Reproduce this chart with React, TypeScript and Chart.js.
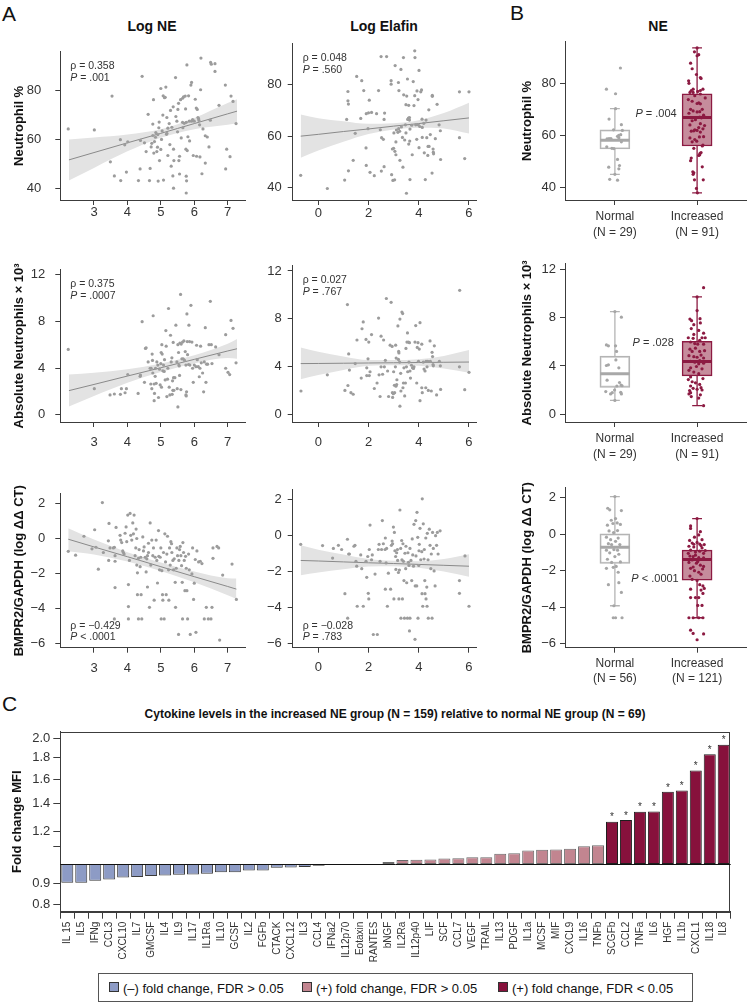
import React, { useEffect, useRef } from 'react';
import { Chart, registerables } from 'chart.js';

Chart.register(...registerables);

const FONT = '"Liberation Sans", Arial, Helvetica, sans-serif';
Chart.defaults.font.family = FONT;
Chart.defaults.color = '#333';

// ---------------- Panel A: scatter data (x = log value, y = outcome) ----------------
const logNeVsNeutPct: [number, number][] = [
  [2.23,64.3],[3.01,63.9],[3.54,77.8],[3.49,50.8],[3.61,45],[3.8,43.1],[3.79,59.9],[3.92,57.8],[4.01,59],[3.97,46.6],[4.33,43.1],[4.39,59.6],[4.38,47.9],[4.44,85.9],[4.51,58.6],[4.56,55],[4.62,70.3],[4.66,43.1],[4.68,48.1],[4.71,56.9],[4.73,58.4],[4.76,66.3],[4.76,61.6],[4.78,76.3],[4.79,54.4],[4.81,59.1],[4.84,60.9],[4.85,62.8],[4.88,55],[4.9,56.8],[4.91,62],[4.94,64.8],[4.95,67.1],[4.92,42.9],[4.96,51.3],[5,80.9],[5,55.9],[5.02,60],[5.04,63.5],[5.06,70],[5.07,77.9],[5.08,43.3],[5.11,77.1],[5.13,77.3],[5.15,81.5],[5.17,62.1],[5.18,62.5],[5.18,69],[5.21,53.4],[5.21,64.6],[5.25,66.5],[5.27,57.9],[5.29,71.9],[5.31,49],[5.33,65],[5.36,45],[5.37,73.4],[5.38,56],[5.39,51.3],[5.38,40],[5.44,85.4],[5.45,69.4],[5.48,67.5],[5.5,63.1],[5.51,72.3],[5.53,74.8],[5.54,51.3],[5.56,53.1],[5.56,45.8],[5.59,76.3],[5.61,60.6],[5.65,67],[5.65,76.9],[5.66,64.8],[5.68,77.5],[5.7,66.6],[5.73,77.8],[5.74,72.5],[5.75,56],[5.76,67],[5.76,44.9],[5.77,43],[5.76,38],[5.78,90.6],[5.79,55.4],[5.81,61.1],[5.83,77.9],[5.85,67.5],[5.86,59.4],[5.9,82.3],[5.92,83.4],[5.92,67.5],[5.95,68.1],[5.97,53.4],[6,67.5],[6.03,76.5],[6.06,72.9],[6.07,53.1],[6.09,72.3],[6.11,69],[6.13,68.5],[6.14,67.8],[6.16,66],[6.17,52.8],[6.19,80.4],[6.2,93.4],[6.23,45.9],[6.26,64.3],[6.33,61.5],[6.33,50.3],[6.39,61],[6.44,56.9],[6.48,67.9],[6.49,91.6],[6.51,90.9],[6.62,91.1],[6.62,87.9],[6.74,74],[6.93,82.3],[6.94,47.9],[6.97,56],[7.07,52.9],[7.1,77.8],[7.16,75.6],[7.25,66.5]
];
const logElafinVsNeutPct: [number, number][] = [
  [-0.7,44.75],[0.36,39.6],[1.05,42.9],[1.13,66.5],[1.18,77.4],[1.18,73.75],[1.2,72.5],[1.2,46.5],[1.39,50.6],[1.47,61.1],[1.53,83.25],[1.69,66.9],[1.73,81.6],[1.81,77.75],[1.9,55.4],[1.91,68.75],[1.91,48.6],[1.98,62.9],[2.0,69.1],[2.03,74],[2.06,45.9],[2.12,69.25],[2.23,44.6],[2.32,68.75],[2.4,77.75],[2.47,62.5],[2.51,46.4],[2.5,91],[2.52,59.4],[2.59,58.75],[2.62,66.5],[2.64,69],[2.72,91],[2.62,48.1],[2.9,81.6],[2.9,80.25],[2.92,45],[2.95,55],[2.97,42.75],[3.04,43],[3.0,55.25],[3.01,61.25],[3.05,54.1],[3.06,87.5],[3.09,57.75],[3.09,52.75],[3.11,62.4],[3.17,61.5],[3.19,80.9],[3.2,62.9],[3.21,77.75],[3.24,61.9],[3.25,50.6],[3.29,86],[3.31,63.6],[3.35,59.5],[3.39,90.6],[3.37,47.9],[3.4,76.1],[3.44,58.5],[3.47,64.4],[3.49,61.25],[3.49,72.25],[3.51,37.75],[3.52,75.6],[3.55,82.25],[3.56,66.5],[3.59,67],[3.6,72],[3.6,56.9],[3.63,67.25],[3.63,66.25],[3.64,58.1],[3.65,43.1],[3.65,62.75],[3.72,64.25],[3.74,52.75],[3.78,81.25],[3.81,71.9],[3.84,75.75],[3.85,90.6],[3.84,93.25],[3.88,64.4],[3.92,58.75],[3.93,77.6],[3.98,64.4],[3.97,74.25],[4.01,85.6],[4.01,55.5],[4.04,63.75],[4.08,77.25],[4.11,78],[4.13,66.6],[4.14,59.5],[4.14,63.4],[4.2,65],[4.22,53.5],[4.26,43.1],[4.29,66.25],[4.32,59.4],[4.36,52.5],[4.37,56],[4.4,70.25],[4.41,56],[4.46,60.6],[4.53,45.6],[4.54,75.9],[4.54,75.5],[4.57,55],[4.58,53.75],[4.59,53.1],[4.66,59],[4.73,72.4],[4.81,64.4],[4.86,62.1],[4.87,50.9],[5.62,77.25],[5.62,59.4],[5.83,51.25],[6.0,77.25]
];
const logNeVsAbsNeut: [number, number][] = [
  [2.23,5.6],[3.01,2.24],[3.48,1.7],[3.61,1.78],[3.79,1.75],[3.82,2.24],[3.93,1.89],[3.97,2.24],[4.01,3.45],[4.32,1.83],[4.38,3.3],[4.39,3.4],[4.44,7.98],[4.51,2.78],[4.54,5.69],[4.56,5.74],[4.62,4.53],[4.68,3.99],[4.7,2.64],[4.71,3.99],[4.73,2.24],[4.74,5.2],[4.75,4.66],[4.76,3.58],[4.77,8.49],[4.8,2.64],[4.8,1.21],[4.81,1.83],[4.83,3.3],[4.84,3.99],[4.86,2.7],[4.88,4.53],[4.91,4.26],[4.93,1.48],[4.96,3.91],[4.98,2.56],[5.0,4.39],[5.01,5.34],[5.02,2.37],[5.03,6.01],[5.04,5.2],[5.06,3.77],[5.08,4.26],[5.1,3.72],[5.11,4.72],[5.13,2.99],[5.15,7.22],[5.16,5.88],[5.18,1.56],[5.2,3.05],[5.21,3.99],[5.23,9.11],[5.25,2.37],[5.27,1.7],[5.29,6.82],[5.31,4.53],[5.33,4.88],[5.34,1.75],[5.35,2.91],[5.36,2.1],[5.37,6.2],[5.38,3.18],[5.39,2.1],[5.42,3.18],[5.45,7.68],[5.48,4.53],[5.49,2.24],[5.51,0.67],[5.51,6.01],[5.53,5.34],[5.54,4.26],[5.55,4.18],[5.56,3.37],[5.57,6.15],[5.59,10.32],[5.6,2.16],[5.61,6.06],[5.63,4.8],[5.65,6.23],[5.67,4.8],[5.69,6.33],[5.71,4.66],[5.73,5.42],[5.75,4.26],[5.75,1.7],[5.76,1.62],[5.77,1.97],[5.78,8.65],[5.79,6.28],[5.8,5.15],[5.83,4.31],[5.84,7.68],[5.86,6.28],[5.87,4.26],[5.9,9.38],[5.93,6.23],[5.95,3.99],[5.97,2.78],[6.0,4.26],[6.05,4.12],[6.07,5.96],[6.09,4.72],[6.12,4.12],[6.15,3.26],[6.17,3.99],[6.19,5.88],[6.21,4.45],[6.25,3.58],[6.28,1.97],[6.3,4.53],[6.33,7.47],[6.35,2.78],[6.37,4.34],[6.4,4.34],[6.44,6.01],[6.48,9.73],[6.51,6.01],[6.53,4.39],[6.64,5.82],[6.74,5.15],[6.94,6.87],[6.94,3.99],[7.01,3.64],[7.06,3.45],[7.1,8.09],[7.16,7.41],[7.25,4.45]
];
const logElafinVsAbsNeut: [number, number][] = [
  [-0.69,1.97],[0.36,3.32],[1.06,2.02],[1.16,9.19],[1.18,2.43],[1.21,5.07],[1.24,3.72],[1.3,1.83],[1.39,1.7],[1.47,4.26],[1.54,6.23],[1.71,3.05],[1.74,7.17],[1.79,7.74],[1.9,6.28],[1.93,3.26],[1.93,3.91],[1.98,4.66],[2.01,6.06],[2.03,3.26],[2.06,3.58],[2.12,6.68],[2.23,2.18],[2.34,2.64],[2.4,8.06],[2.42,3.32],[2.46,1.51],[2.5,6.55],[2.5,3.99],[2.56,3.37],[2.6,6.23],[2.63,3.99],[2.67,4.53],[2.71,9.7],[2.76,3.64],[2.8,1.51],[2.86,5.8],[2.9,9.38],[2.94,5.69],[2.95,1.83],[2.96,1.43],[2.99,1.75],[3.0,3.58],[3.03,2.45],[3.04,1.83],[3.07,3.99],[3.08,5.8],[3.09,2.37],[3.1,4.72],[3.12,2.51],[3.13,2.91],[3.17,7.41],[3.19,4.61],[3.2,5.28],[3.21,5.15],[3.24,4.39],[3.25,7.98],[3.25,0.7],[3.28,3.45],[3.29,1.97],[3.33,8.57],[3.36,8.44],[3.37,2.24],[3.39,2.64],[3.41,3.91],[3.44,1.56],[3.47,2.64],[3.49,5.53],[3.51,3.99],[3.53,6.06],[3.55,6.82],[3.56,3.58],[3.59,6.06],[3.61,4.39],[3.63,6.01],[3.65,3.64],[3.67,3.05],[3.71,4.12],[3.75,3.91],[3.79,3.85],[3.81,3.99],[3.85,6.06],[3.88,7.44],[3.92,2.64],[3.94,5.61],[3.97,6.01],[3.99,4.45],[4.02,5.47],[4.05,7.68],[4.05,1.16],[4.12,5.88],[4.12,2.24],[4.14,1.83],[4.18,4.39],[4.21,3.8],[4.25,3.64],[4.28,2.24],[4.29,4.45],[4.33,3.99],[4.36,4.45],[4.38,2.02],[4.45,6.15],[4.46,4.45],[4.5,1.97],[4.53,5.2],[4.55,4.85],[4.57,4.18],[4.58,4.07],[4.62,5.74],[4.71,1.64],[4.82,4.45],[4.86,4.07],[4.87,2.1],[5.62,3.99],[5.63,10.38],[5.83,2.08],[6.0,3.53]
];
const logNeVsBmpr2: [number, number][] = [
  [2.23,-0.73],[2.45,-0.95],[2.7,0.13],[2.94,-0.59],[3.02,0.5],[3.06,-0.5],[3.13,-1.75],[3.25,2.05],[3.28,-0.8],[3.43,-0.13],[3.45,0.86],[3.48,-0.54],[3.44,-1.25],[3.61,-0.5],[3.63,-0.98],[3.63,-1.3],[3.58,-0.54],[3.63,-2.8],[3.66,0.63],[3.61,-4.59],[3.78,0.18],[3.8,-0.09],[3.83,-0.23],[3.86,-0.71],[3.88,-0.8],[3.9,-0.89],[3.93,0.3],[3.96,0.66],[3.98,-0.18],[4.01,1.34],[4.06,-1.25],[4.03,-2.63],[4.03,-3.89],[4.03,-4.59],[4.08,1.43],[4.1,0.18],[4.13,-0.09],[4.16,0.89],[4.18,0.27],[4.2,1.34],[4.23,-0.98],[4.25,-0.54],[4.26,0.54],[4.28,-1.52],[4.28,0],[4.3,-1.96],[4.3,-3.21],[4.33,-1.13],[4.33,-4.59],[4.35,-0.63],[4.38,-1.61],[4.4,-1.07],[4.41,-3.21],[4.43,-4.59],[4.46,0.09],[4.48,-0.71],[4.5,-0.48],[4.53,-1.07],[4.56,-1.91],[4.58,-1.16],[4.6,-2.77],[4.6,-0.98],[4.63,-0.27],[4.63,-0.8],[4.66,-3.93],[4.68,0.89],[4.7,-1.52],[4.73,-0.09],[4.76,-0.98],[4.78,-0.54],[4.8,-3.52],[4.83,-1.07],[4.86,-0.09],[4.88,-1.25],[4.9,-2.54],[4.93,0.45],[4.94,-1.02],[4.96,-1.79],[4.98,-1.07],[5.0,-0.54],[5.01,-4.59],[5.03,-1.84],[5.05,-3.21],[5.06,-3.52],[5.08,-0.8],[5.1,-4.59],[5.12,0.27],[5.14,-1.34],[5.16,-3.21],[5.18,-0.89],[5.2,0.13],[5.23,-1.79],[5.24,-3.52],[5.26,-0.54],[5.28,-1.52],[5.3,-0.18],[5.32,-0.3],[5.33,-0.8],[5.36,-1.25],[5.38,-1.79],[5.4,-1.16],[5.43,-2.5],[5.44,-3.93],[5.46,-1.7],[5.48,-0.54],[5.5,-0.98],[5.53,-5.48],[5.54,-1.25],[5.56,-0.63],[5.58,-0.45],[5.6,-0.98],[5.62,-1.55],[5.64,-2.5],[5.65,-4.59],[5.66,-0.23],[5.68,-0.8],[5.7,-1.25],[5.72,-2.98],[5.74,-1.02],[5.76,-1.7],[5.78,-2.98],[5.8,-4.59],[5.83,-0.89],[5.85,-1.79],[5.88,-5.48],[5.93,-2.02],[5.95,-0.54],[5.98,-3.48],[6.0,-2.55],[6.03,-1.2],[6.05,-5.36],[6.08,-0.71],[6.13,-1.34],[6.18,-1.3],[6.23,-1.43],[6.3,-4.59],[6.36,-3.93],[6.42,-4.59],[6.5,-4.59],[6.53,-3.93],[6.56,-1.13],[6.56,-0.54],[6.68,-0.45],[6.73,-0.54],[6.76,-5.8],[6.85,-2.09],[7.13,-1.46],[7.26,-3.48]
];
const logElafinVsBmpr2: [number, number][] = [
  [-0.7,-0.48],[0.17,-0.55],[0.57,-1.25],[0.6,-0.71],[0.8,-0.54],[0.93,-0.77],[1.06,-3.23],[1.16,-0.2],[1.17,-4.59],[1.21,-1.02],[1.24,-1.02],[1.42,-0.59],[1.46,-0.54],[1.5,-1.43],[1.53,-1.7],[1.55,-3.93],[1.69,-1.07],[1.73,-1.84],[1.79,-3.93],[1.9,-1.43],[1.93,-2.32],[1.97,-1.16],[1.99,-3.21],[2.01,-3.52],[2.03,-0.77],[2.06,0.59],[2.12,-1.34],[2.15,-1.07],[2.19,-5.5],[2.26,-2.14],[2.35,-5.5],[2.39,-0.77],[2.42,-0.48],[2.46,-1.43],[2.52,-0.77],[2.55,0.84],[2.59,-0.45],[2.66,-0.77],[2.67,-0.13],[2.67,-2.98],[2.7,-1.52],[2.72,-0.71],[2.75,-3.93],[2.79,-2.09],[2.88,-2.98],[2.91,-0.54],[2.94,-0.3],[2.96,-0.45],[2.99,0.48],[3.01,-3.52],[3.03,0.18],[3.05,-0.84],[3.08,-1.16],[3.09,-1.88],[3.12,-0.95],[3.15,-0.77],[3.16,-1.38],[3.19,-2.05],[3.21,-3.52],[3.23,-1.91],[3.25,1.43],[3.28,-0.71],[3.29,-4.59],[3.32,-0.27],[3.33,-1.34],[3.35,-3.52],[3.37,-0.45],[3.39,-1.43],[3.41,-2.5],[3.43,-4.59],[3.45,-0.98],[3.48,-1.84],[3.49,-0.59],[3.52,-2.62],[3.55,-4.59],[3.57,-0.95],[3.59,-1.48],[3.61,-1.66],[3.63,-5.3],[3.65,-4.59],[3.65,-0.71],[3.69,-1.38],[3.72,-2.5],[3.74,-0.18],[3.76,-1.07],[3.79,-1.7],[3.81,0.63],[3.85,-5.77],[3.86,-2.8],[3.88,0.84],[3.89,-1.13],[3.92,-2.8],[3.93,1.3],[3.96,-0.09],[3.97,-4.59],[4.0,-1.66],[4.01,-0.84],[4.02,-0.48],[4.05,0.41],[4.08,-1.34],[4.12,-0.89],[4.13,-3.23],[4.14,2.05],[4.16,-3.93],[4.18,0.66],[4.21,-1.3],[4.22,-0.77],[4.24,-2.5],[4.25,-3.23],[4.28,-0.13],[4.29,-3.52],[4.32,-2.86],[4.33,-3.93],[4.34,0.13],[4.37,-1.34],[4.38,-4.59],[4.42,0.36],[4.45,-0.54],[4.48,-1.84],[4.5,-1.02],[4.53,-4.59],[4.55,0.18],[4.58,-0.71],[4.61,-1.96],[4.65,-2.8],[4.67,0],[4.71,-0.54],[4.74,0.18],[4.77,-1.02],[4.85,0.27],[5.62,-2.5],[5.62,-3.21],[5.84,-1.13],[6.0,-3.93]
];

// regression fits with 95% CI
const fitNeNeutPctX = [2.25, 3, 4, 5, 5.5, 6, 7, 7.28];
const fitNeNeutPctMid = [51.6, 54.6, 58.6, 62.5, 64.5, 66.5, 70.5, 71.6];
const fitNeNeutPctHi = [60.0, 60.8, 62.0, 64.2, 66.2, 68.8, 75.0, 76.5];
const fitNeNeutPctLo = [43.1, 48.3, 55.1, 60.7, 62.6, 64.2, 66.0, 66.6];

const fitElNeutPctX = [-0.7, 0, 1, 2, 3, 4, 5, 6];
const fitElNeutPctMid = [60.0, 60.7, 61.8, 62.8, 63.9, 64.9, 66.0, 67.1];
const fitElNeutPctHi = [68.4, 67.0, 65.8, 64.8, 65.0, 66.2, 69.0, 73.0];
const fitElNeutPctLo = [51.6, 54.4, 57.8, 60.8, 62.6, 63.3, 63.0, 61.0];

const fitNeAbsX = [2.25, 3, 4, 5, 5.5, 6, 7, 7.28];
const fitNeAbsMid = [2.07, 2.6, 3.32, 4.03, 4.39, 4.75, 5.47, 5.66];
const fitNeAbsHi = [3.45, 3.6, 3.9, 4.4, 4.72, 5.1, 6.1, 6.5];
const fitNeAbsLo = [0.7, 1.6, 2.74, 3.66, 4.06, 4.4, 4.86, 4.8];

const fitElAbsX = [-0.7, 0, 1, 2, 3, 4, 5, 6];
const fitElAbsMid = [4.26, 4.27, 4.29, 4.31, 4.33, 4.35, 4.37, 4.39];
const fitElAbsHi = [5.6, 5.25, 4.85, 4.55, 4.55, 4.62, 4.9, 5.39];
const fitElAbsLo = [2.96, 3.3, 3.73, 4.07, 4.12, 4.08, 3.84, 3.5];

const fitNeBmprX = [2.23, 3, 4, 5, 6, 7, 7.26];
const fitNeBmprMid = [-0.04, -0.48, -1.04, -1.61, -2.18, -2.74, -2.89];
const fitNeBmprHi = [0.59, -0.06, -0.78, -1.37, -1.88, -2.27, -2.29];
const fitNeBmprLo = [-0.73, -0.92, -1.32, -1.86, -2.5, -3.24, -3.45];

const fitElBmprX = [-0.7, 0, 1, 2, 3, 4, 5, 6];
const fitElBmprMid = [-1.38, -1.41, -1.46, -1.51, -1.55, -1.6, -1.65, -1.7];
const fitElBmprHi = [-0.54, -0.78, -1.05, -1.3, -1.4, -1.42, -1.3, -1.04];
const fitElBmprLo = [-2.2, -2.05, -1.87, -1.72, -1.7, -1.78, -2.0, -2.29];

// axis ticks
const logNeTicks = [3, 4, 5, 6, 7];
const logElafinTicks = [0, 2, 4, 6];
const neutPctTicks = [40, 60, 80];
const absNeutTicks = [0, 4, 8, 12];
const bmprTicks = [-6, -4, -2, 0, 2];

// ---------------- Panel B: box plot stats [whiskerLow, Q1, median, Q3, whiskerHigh] ----------------
const neGroups = ['Normal', 'Increased'];
const neutPctN = ['(N = 29)', '(N = 91)'];
const absNeutN = ['(N = 29)', '(N = 91)'];
const bmprN = ['(N = 56)', '(N = 121)'];

const neutPctNormalStats = [45, 54.75, 58.1, 62.1, 70.25];
const neutPctIncStats = [37.9, 55.9, 66.9, 76, 93.6];
const absNeutNormalStats = [1.16, 2.24, 3.37, 4.82, 8.49];
const absNeutIncStats = [0.73, 3.18, 4.37, 6.04, 9.7];
const bmprNormalStats = [-3.93, -1.61, -0.71, 0.02, 2.07];
const bmprIncStats = [-4.59, -2.52, -1.39, -0.875, 0.86];

// jittered points: [horizontal jitter, value]
const neutPctNormalPts: [number, number][] = [
  [0.067,85.9],[-0.103,77.75],[0.008,76],[-0.071,66.25],[0.079,64.1],[-0.016,62.1],[0.091,61.9],[0.032,59.6],[-0.095,58.6],[-0.071,58.75],[-0.048,58.75],[0.048,59.1],[-0.099,55.6],[-0.036,55],[-0.012,54.9],[0.079,57.5],[0.032,50.75],[-0.075,47.75],[0.056,48.4],[0.048,47.1],[-0.063,43.1],[0.032,42.75],[0,45],[0.008,70.25],[0.048,60],[0.071,60.25]
];
const neutPctIncPts: [number, number][] = [
  [0,93.6],[0.004,37.9],[-0.008,39.6],[-0.032,42.9],[0.075,42.9],[-0.048,45],[-0.04,45.6],[-0.052,46],[0.063,47.9],[-0.071,51.25],[-0.079,50.25],[0.032,52.5],[0.036,53.1],[0.048,53.4],[0.02,52.25],[0.071,56.25],[0.063,55.9],[-0.06,57.5],[-0.028,58.4],[-0.004,57.75],[0.028,59.4],[-0.087,59],[-0.071,61.6],[-0.04,61.75],[-0.028,62.1],[0,61.9],[0.04,61.25],[0.071,62.5],[0.091,63.75],[-0.087,64],[-0.06,65.6],[-0.02,66],[0.032,67],[0.052,66.75],[0.079,67.75],[0,69],[0.032,69.1],[-0.048,69.4],[-0.079,70],[0.063,70],[0.02,72.5],[0,72.25],[0.04,72.1],[-0.06,73.1],[0.099,74.4],[-0.107,73.75],[-0.028,75.25],[0.04,75.9],[-0.087,76.5],[-0.048,76.5],[0.008,76.9],[-0.071,77.25],[0.04,77.25],[-0.048,77.75],[-0.099,80],[0.071,77.75],[-0.103,81],[0.048,81.9],[0.04,82.25],[-0.008,83.4],[-0.06,85.6],[-0.079,87.75],[0,90.6],[0.02,91],[-0.032,92.1],[-0.099,68.5],[0.079,59.5],[-0.04,55],[0.04,64.5],[-0.079,66.8],[0.02,63]
];
const absNeutNormalPts: [number, number][] = [
  [0.079,8.03],[-0.103,5.74],[-0.079,5.66],[0.008,5.66],[0.02,5.2],[0.012,4.5],[-0.079,4.1],[-0.103,4.04],[0.048,3.85],[-0.095,2.83],[0.056,2.64],[0.075,2.43],[0.024,2.35],[0.087,2.37],[-0.004,2.02],[-0.111,1.89],[-0.052,1.7],[-0.032,1.8],[0.071,1.83],[0.079,1.7],[0,8.49],[0,1.16]
];
const absNeutIncPts: [number, number][] = [
  [0.079,10.46],[0,9.7],[0,8.57],[-0.087,7.87],[-0.067,7.74],[0.036,7.9],[-0.04,7.41],[0.04,7.55],[-0.071,7.09],[0.02,6.93],[-0.04,6.6],[0.079,6.71],[0.06,6.33],[0.099,6.33],[-0.107,6.33],[-0.048,6.28],[0.032,6.12],[-0.079,5.98],[-0.028,5.85],[0.008,5.8],[0.079,5.8],[-0.087,5.39],[-0.02,5.47],[-0.06,5.2],[0.032,5.2],[0.091,5.26],[-0.099,4.85],[-0.04,4.77],[0,4.72],[0.048,4.9],[0.079,4.66],[-0.079,4.39],[-0.028,4.31],[0.032,4.45],[0.02,4.18],[0.079,4.23],[-0.079,3.85],[-0.008,3.96],[0.06,3.77],[-0.099,3.64],[-0.04,3.5],[0.02,3.37],[-0.079,3.1],[0.071,2.96],[-0.107,2.88],[-0.06,2.7],[-0.02,2.61],[0.032,2.48],[-0.079,2.35],[0.048,2.21],[-0.048,2.16],[-0.091,1.97],[0,2.08],[0.06,2.02],[-0.099,1.7],[0.04,1.62],[-0.071,1.48],[0.02,1.35],[0.079,0.73],[-0.079,1.8]
];
const bmprNormalPts: [number, number][] = [
  [0,2.07],[-0.087,1.43],[-0.063,1.34],[0.079,1.3],[0.008,0.86],[-0.044,0.77],[0.028,0.625],[0.067,0.54],[-0.091,0.5],[-0.024,0.59],[-0.071,0.18],[0.032,0.2],[-0.016,0.09],[-0.103,-0.16],[-0.052,-0.3],[0.04,-0.21],[0.008,-0.39],[-0.079,-0.52],[-0.04,-0.57],[0.06,-0.57],[-0.012,-0.84],[0.032,-0.875],[-0.103,-0.875],[-0.063,-1.02],[0.048,-1.1],[0,-1.23],[-0.091,-1.375],[0.067,-1.52],[-0.04,-1.55],[-0.103,-1.875],[-0.02,-1.82],[0.016,-1.77],[0.04,-2.09],[-0.079,-2.77],[0.048,-2.66],[0.079,-3.2],[-0.012,-3.93],[-0.02,-4.59],[0.008,-4.59],[0.087,-4.59]
];
const bmprIncPts: [number, number][] = [
  [0,0.86],[-0.079,0.46],[-0.079,0.32],[0.04,0.14],[0.02,-0.04],[-0.032,-0.16],[0.06,-0.3],[-0.091,-0.34],[-0.06,-0.48],[0,-0.45],[0.032,-0.54],[0.087,-0.57],[-0.099,-0.66],[-0.04,-0.7],[0.06,-0.75],[-0.079,-0.875],[-0.02,-0.98],[0.032,-0.93],[0.079,-1.05],[-0.087,-1.2],[-0.048,-1.23],[0.02,-1.29],[-0.06,-1.41],[0.06,-1.375],[-0.099,-1.55],[-0.008,-1.59],[0.04,-1.7],[0.079,-1.77],[-0.079,-1.875],[-0.032,-2.0],[0.02,-2.09],[0.067,-1.91],[-0.06,-2.48],[0,-2.54],[0.032,-2.77],[0.071,-2.84],[0.087,-2.98],[-0.079,-3.02],[0.048,-3.07],[0.071,-3.25],[-0.079,-3.48],[-0.02,-3.48],[0.02,-3.48],[0.008,-3.91],[0.06,-3.91],[-0.099,-4.59],[-0.048,-4.59],[0.02,-4.59],[0.071,-4.59],[-0.079,-5.27],[-0.048,-5.45],[0.079,-5.48],[0,-5.8],[-0.04,-0.55],[0.048,-0.62],[0.099,-0.9],[-0.107,-1.05],[-0.02,-1.15],[0.079,-1.3],[0.008,-1.5],[-0.048,-1.8],[0.048,-2.2],[-0.087,-2.3]
];

// ---------------- Panel C: cytokine fold changes ----------------
const cytokines = ['IL 15','IL5','IFNg','CCL3','CXCL10','IL7','GMCSF','IL4','IL9','IL17','IL1Ra','IL10','GCSF','IL2','FGFb','CTACK','CXCL12','IL3','CCL4','IFNa2','IL12p70','Eotaxin','RANTES','bNGF','IL2Ra','IL12p40','LIF','SCF','CCL7','VEGF','TRAIL','IL13','PDGF','IL1a','MCSF','MIF','CXCL9','IL16','TNFb','SCGFb','CCL2','TNFa','IL6','HGF','IL1b','CXCL1','IL18','IL8'];
const foldChange = [0.901,0.901,0.911,0.918,0.928,0.931,0.936,0.938,0.943,0.944,0.948,0.955,0.956,0.965,0.965,0.979,0.981,0.984,0.991,0.995,0.995,0.999,1.0005,1.011,1.022,1.024,1.025,1.031,1.033,1.038,1.038,1.059,1.061,1.078,1.082,1.084,1.088,1.103,1.109,1.264,1.277,1.336,1.338,1.492,1.503,1.679,1.836,1.937];
const fdrGroup = [
  'neg','neg','neg','neg','neg','neg','neg','neg','neg','neg','neg','neg','neg','neg','neg','neg','neg','neg','neg','neg','neg','neg',
  'pos','pos','pos','pos','pos','pos','pos','pos','pos','pos','pos','pos','pos','pos','pos','pos','pos',
  'sig','sig','sig','sig','sig','sig','sig','sig','sig'
];
const foldTicks = [0.8, 0.9, 1.1, 1.2, 1.4, 1.6, 1.8, 2.0];
const legendLabels = ['(\u2013) fold change, FDR > 0.05', '(+) fold change, FDR > 0.05', '(+) fold change, FDR < 0.05'];

// ---------------- styles ----------------
const AX = '#3c3c3c';
const PT_GRAY = '#9c9c9c';
const BAND = '#e3e3e3';
const FIT = '#8a8a8a';
const CRIMSON = '#8c1a42';
const ROSE = '#c68c9c';
const BOX_GRAY = '#b4b4b4';
const GROUP_FILL: Record<string, string> = { neg: '#8d9bc5', pos: '#c28590', sig: '#87113c' };
const GROUP_BORDER: Record<string, string> = { neg: '#3a3a3a', pos: '#6a6a6a', sig: '#1e1e1e' };

const fmtNum = (v: number) => (v < 0 ? '\u2212' + Math.abs(v) : String(v));

type Rect = { x: number; y: number; w: number; h: number };
type Area = { l: number; t: number; r: number; b: number };

function layoutOf(rect: Rect, area: Area) {
  return { yW: area.l - rect.x, xH: rect.y + rect.h - area.b, pt: area.t - rect.y, pr: rect.x + rect.w - area.r };
}

function linAxis(min: number, max: number, ticks: number[], pad: number, fit: (s: any) => void, extra: any = {}) {
  return {
    type: 'linear',
    min, max,
    offset: false,
    afterBuildTicks: (s: any) => { s.ticks = ticks.map((v) => ({ value: v })); },
    afterFit: fit,
    ticks: { font: { size: 13 }, color: '#333', padding: pad, autoSkip: false, maxRotation: 0, callback: (v: number) => fmtNum(v) },
    grid: { offset: false, drawOnChartArea: false, drawTicks: true, tickLength: 5, color: AX, lineWidth: 1 },
    border: { display: true, color: AX, width: 1 },
    ...extra,
  };
}

function statsPlugin(rho: string, pRest: string, pos: 'top' | 'bottom') {
  return {
    id: 'stats',
    afterDatasetsDraw(chart: any) {
      const { ctx, chartArea } = chart;
      ctx.save();
      ctx.fillStyle = '#333';
      ctx.textBaseline = 'middle';
      ctx.textAlign = 'left';
      const x = chartArea.left + 10;
      const y1 = pos === 'top' ? chartArea.top + 14 : chartArea.bottom - 22;
      const y2 = pos === 'top' ? chartArea.top + 26 : chartArea.bottom - 11;
      ctx.font = `10.5px ${FONT}`;
      ctx.fillText(rho, x, y1);
      ctx.font = `italic 10.5px ${FONT}`;
      ctx.fillText('P', x, y2);
      const w = ctx.measureText('P').width;
      ctx.font = `10.5px ${FONT}`;
      ctx.fillText(pRest, x + w, y2);
      ctx.restore();
    },
  };
}

function scatterConfig(s: any) {
  const L = layoutOf(s.rect, s.area);
  const datasets: any[] = [
    { type: 'line', data: s.fitX.map((x: number, i: number) => ({ x, y: s.fitHi[i] })), borderWidth: 0, pointRadius: 0, fill: '+1', backgroundColor: BAND, cubicInterpolationMode: 'monotone', order: 3 },
    { type: 'line', data: s.fitX.map((x: number, i: number) => ({ x, y: s.fitLo[i] })), borderWidth: 0, pointRadius: 0, fill: false, cubicInterpolationMode: 'monotone', order: 3 },
    { type: 'line', data: s.fitX.map((x: number, i: number) => ({ x, y: s.fitMid[i] })), borderColor: FIT, borderWidth: 1, pointRadius: 0, fill: false, order: 2 },
    { type: 'scatter', data: s.pts.map(([x, y]: [number, number]) => ({ x, y })), backgroundColor: PT_GRAY, borderWidth: 0, pointRadius: 1.6, order: 1 },
  ];
  const yExtra: any = {};
  if (s.yTitle) {
    yExtra.title = { display: true, text: s.yTitle, font: { size: 13, weight: 'bold' }, color: '#111', padding: { top: s.yTitlePad, bottom: 0 } };
  }
  return {
    type: 'scatter',
    data: { datasets },
    options: {
      responsive: false, animation: false, devicePixelRatio: 1, events: [],
      layout: { padding: { left: 0, top: L.pt, right: L.pr, bottom: 0 } },
      plugins: { legend: { display: false }, tooltip: { enabled: false } },
      scales: {
        x: linAxis(s.xMin, s.xMax, s.xTicks, s.xPad, (sc: any) => { sc.height = L.xH; }),
        y: linAxis(s.yMin, s.yMax, s.yTicks, s.yPad, (sc: any) => { sc.width = L.yW; }, yExtra),
      },
    },
    plugins: [statsPlugin(s.rho, s.pRest, s.statsPos)],
  };
}

const HALF = 15 / 84; // box half-width in group units
const CAP = 0.06;

function whisker(c: number, st: number[]) {
  return [
    { x: c, y: st[0] }, { x: c, y: st[1] }, { x: c, y: null },
    { x: c, y: st[3] }, { x: c, y: st[4] }, { x: c, y: null },
    { x: c - CAP, y: st[4] }, { x: c + CAP, y: st[4] }, { x: c, y: null },
    { x: c - CAP, y: st[0] }, { x: c + CAP, y: st[0] },
  ];
}

function boxConfig(s: any) {
  const L = layoutOf(s.rect, s.area);
  const ns = s.normalStats, is = s.incStats;
  const datasets: any[] = [
    { type: 'bar', data: [{ x: 1, y: [ns[1], ns[3]] }, { x: 2, y: [is[1], is[3]] }], backgroundColor: ['rgba(255,255,255,0.6)', ROSE], borderColor: [BOX_GRAY, CRIMSON], borderWidth: 1.5, borderSkipped: false, barThickness: 30, grouped: false, order: 6 },
    { type: 'line', data: whisker(1, ns), borderColor: BOX_GRAY, borderWidth: 1.3, pointRadius: 0, fill: false, spanGaps: false, order: 5 },
    { type: 'line', data: whisker(2, is), borderColor: CRIMSON, borderWidth: 1.3, pointRadius: 0, fill: false, spanGaps: false, order: 5 },
    { type: 'scatter', data: s.normalPts.map(([d, y]: [number, number]) => ({ x: 1 + d, y })), backgroundColor: '#a6a6a6', borderWidth: 0, pointRadius: 1.6, order: 3 },
    { type: 'scatter', data: s.incPts.map(([d, y]: [number, number]) => ({ x: 2 + d, y })), backgroundColor: CRIMSON, borderWidth: 0, pointRadius: 1.6, order: 3 },
    { type: 'line', data: [{ x: 1 - HALF, y: ns[2] }, { x: 1 + HALF, y: ns[2] }], borderColor: '#a8a8a8', borderWidth: 3, pointRadius: 0, fill: false, order: 1 },
    { type: 'line', data: [{ x: 2 - HALF, y: is[2] }, { x: 2 + HALF, y: is[2] }], borderColor: CRIMSON, borderWidth: 3, pointRadius: 0, fill: false, order: 1 },
  ];
  const labels = s.groupLabels;
  const pPlugin = {
    id: 'pval',
    afterDatasetsDraw(chart: any) {
      const { ctx, scales } = chart;
      const x = scales.x.getPixelForValue(s.pAt[0]);
      const y = scales.y.getPixelForValue(s.pAt[1]);
      ctx.save();
      ctx.fillStyle = '#333';
      ctx.textBaseline = 'middle';
      ctx.textAlign = 'left';
      ctx.font = `italic 11px ${FONT}`;
      ctx.fillText('P', x, y);
      const w = ctx.measureText('P').width;
      ctx.font = `11px ${FONT}`;
      ctx.fillText(s.pRest, x + w, y);
      ctx.restore();
    },
  };
  return {
    type: 'scatter',
    data: { datasets },
    options: {
      responsive: false, animation: false, devicePixelRatio: 1, events: [],
      layout: { padding: { left: 0, top: L.pt, right: L.pr, bottom: 0 } },
      plugins: { legend: { display: false }, tooltip: { enabled: false } },
      scales: {
        x: linAxis(0.393, 2.595, [1, 2], s.xPad, (sc: any) => { sc.height = L.xH; }, {
          ticks: { font: { size: 12, lineHeight: 1.3 }, color: '#333', padding: s.xPad, autoSkip: false, maxRotation: 0, callback: (_v: number, i: number) => labels[i] },
        }),
        y: linAxis(s.yMin, s.yMax, s.yTicks, s.yPad, (sc: any) => { sc.width = L.yW; }, {
          title: { display: true, text: s.yTitle, font: { size: 13, weight: 'bold' }, color: '#111', padding: { top: s.yTitlePad, bottom: 0 } },
        }),
      },
    },
    plugins: [pPlugin],
  };
}

function barConfig() {
  const rect: Rect = { x: 5, y: 721, w: 740, h: 250 };
  const area: Area = { l: 60.3, t: 725.7, r: 730.7, b: 911.7 };
  const L = layoutOf(rect, area);
  const deco = {
    id: 'deco',
    afterDatasetsDraw(chart: any) {
      const { ctx, chartArea, scales } = chart;
      ctx.save();
      ctx.strokeStyle = AX;
      ctx.lineWidth = 1;
      ctx.strokeRect(Math.round(chartArea.left) + 0.5, Math.round(chartArea.top) + 0.5, Math.round(chartArea.right - chartArea.left) - 1, Math.round(chartArea.bottom - chartArea.top));
      const y1 = Math.round(scales.y.getPixelForValue(1)) + 0.5;
      ctx.strokeStyle = '#111';
      ctx.beginPath();
      ctx.moveTo(chartArea.left, y1);
      ctx.lineTo(chartArea.right, y1);
      ctx.stroke();
      const meta = chart.getDatasetMeta(0);
      ctx.fillStyle = '#333';
      ctx.font = `10px ${FONT}`;
      ctx.textAlign = 'center';
      ctx.textBaseline = 'middle';
      meta.data.forEach((el: any, i: number) => {
        if (fdrGroup[i] === 'sig') {
          const top = Math.min(el.y, el.base);
          ctx.fillText('*', el.x, top - 4);
        }
      });
      ctx.restore();
    },
  };
  return {
    rect,
    config: {
      type: 'bar',
      data: {
        labels: cytokines,
        datasets: [{
          data: foldChange.map((v) => [1, v]),
          backgroundColor: fdrGroup.map((g) => GROUP_FILL[g]),
          borderColor: fdrGroup.map((g) => GROUP_BORDER[g]),
          borderWidth: 1,
          borderSkipped: false,
          categoryPercentage: 1,
          barPercentage: 0.86,
        }],
      },
      options: {
        responsive: false, animation: false, devicePixelRatio: 1, events: [],
        layout: { padding: { left: 0, top: L.pt, right: L.pr, bottom: 0 } },
        plugins: { legend: { display: false }, tooltip: { enabled: false } },
        scales: {
          x: {
            afterFit: (sc: any) => { sc.height = L.xH; },
            ticks: { autoSkip: false, maxRotation: 90, minRotation: 90, font: { size: 10 }, color: '#333', padding: 3 },
            grid: { drawOnChartArea: false, drawTicks: true, tickLength: 7, color: AX },
            border: { display: true, color: AX },
          },
          y: {
            type: 'logarithmic',
            min: 0.768, max: 2.08,
            afterBuildTicks: (s: any) => { s.ticks = foldTicks.map((v) => ({ value: v })); },
            afterFit: (sc: any) => { sc.width = L.yW; },
            ticks: { font: { size: 13 }, color: '#333', padding: 3, autoSkip: false, callback: (v: number) => (v === 1.1 ? '' : v.toFixed(1)) },
            grid: { drawOnChartArea: false, drawTicks: true, tickLength: 7, color: AX },
            border: { display: true, color: AX },
            title: { display: true, text: 'Fold change MFI', font: { size: 13, weight: 'bold' }, color: '#111', padding: { top: 5, bottom: 0 } },
          },
        },
      },
      plugins: [deco],
    },
  };
}

function ChartCanvas({ rect, make }: { rect: Rect; make: () => any }) {
  const ref = useRef<HTMLCanvasElement>(null);
  useEffect(() => {
    const chart = new Chart(ref.current as HTMLCanvasElement, make());
    return () => chart.destroy();
  }, []);
  return (
    <canvas ref={ref} width={rect.w} height={rect.h}
      style={{ position: 'absolute', left: rect.x, top: rect.y, width: rect.w, height: rect.h }} />
  );
}

function T({ x, y, size = 13, bold = false, anchor = 'center', children }: any) {
  return (
    <div style={{
      position: 'absolute', left: x, top: y,
      transform: anchor === 'center' ? 'translate(-50%,-50%)' : 'translate(0,-50%)',
      fontFamily: FONT, fontSize: size, fontWeight: bold ? 700 : 400, lineHeight: 1,
      whiteSpace: 'nowrap', color: '#111',
    }}>{children}</div>
  );
}

// geometry (page pixels)
const COL1 = { x: 6, w: 250, l: 60.3, r: 245 };
const COL2 = { x: 262, w: 225, l: 292.7, r: 476.7 };
const COL3 = { x: 514, w: 236, l: 565, r: 750 };
const ROW1 = { y: 30, h: 210, t: 37.7, b: 200 };
const ROW2 = { y: 252, h: 210, t: 260.7, b: 422 };
const ROW3 = { y: 476, h: 214, t: 484, b: 647.7 };

function rectOf(c: any, r: any): Rect { return { x: c.x, y: r.y, w: c.w, h: r.h }; }
function areaOf(c: any, r: any): Area { return { l: c.l, t: r.t, r: c.r, b: r.b }; }

const NE_X = { xMin: 1.992, xMax: 7.518, xTicks: logNeTicks };
const EL_X = { xMin: -1.019, xMax: 6.307, xTicks: logElafinTicks };
const Y1 = { yMin: 35.13, yMax: 95.97, yTicks: neutPctTicks };
const Y2 = { yMin: -0.62, yMax: 12.43, yTicks: absNeutTicks };
const Y3 = { yMin: -6.236, yMax: 2.553, yTicks: bmprTicks };

const scatterSpecs: any[] = [
  { rect: rectOf(COL1, ROW1), area: areaOf(COL1, ROW1), ...NE_X, ...Y1, pts: logNeVsNeutPct, fitX: fitNeNeutPctX, fitMid: fitNeNeutPctMid, fitHi: fitNeNeutPctHi, fitLo: fitNeNeutPctLo, yTitle: 'Neutrophil %', yTitlePad: 6, yPad: 14, xPad: 0, rho: '\u03c1 = 0.358', pRest: ' = .001', statsPos: 'top' },
  { rect: rectOf(COL2, ROW1), area: areaOf(COL2, ROW1), ...EL_X, ...Y1, pts: logElafinVsNeutPct, fitX: fitElNeutPctX, fitMid: fitElNeutPctMid, fitHi: fitElNeutPctHi, fitLo: fitElNeutPctLo, yPad: 6, xPad: 1, rho: '\u03c1 = 0.048', pRest: ' = .560', statsPos: 'top' },
  { rect: rectOf(COL1, ROW2), area: areaOf(COL1, ROW2), ...NE_X, ...Y2, pts: logNeVsAbsNeut, fitX: fitNeAbsX, fitMid: fitNeAbsMid, fitHi: fitNeAbsHi, fitLo: fitNeAbsLo, yTitle: 'Absolute Neutrophils \u00d7 10\u00b3', yTitlePad: 6, yPad: 10, xPad: 8, rho: '\u03c1 = 0.375', pRest: ' = .0007', statsPos: 'top' },
  { rect: rectOf(COL2, ROW2), area: areaOf(COL2, ROW2), ...EL_X, ...Y2, pts: logElafinVsAbsNeut, fitX: fitElAbsX, fitMid: fitElAbsMid, fitHi: fitElAbsHi, fitLo: fitElAbsLo, yPad: 6, xPad: 8, rho: '\u03c1 = 0.027', pRest: ' = .767', statsPos: 'top' },
  { rect: rectOf(COL1, ROW3), area: areaOf(COL1, ROW3), ...NE_X, ...Y3, pts: logNeVsBmpr2, fitX: fitNeBmprX, fitMid: fitNeBmprMid, fitHi: fitNeBmprHi, fitLo: fitNeBmprLo, yTitle: 'BMPR2/GAPDH (log \u0394\u0394 CT)', yTitlePad: 6, yPad: 10, xPad: 8, rho: '\u03c1 = \u22120.429', pRest: ' < .0001', statsPos: 'bottom' },
  { rect: rectOf(COL2, ROW3), area: areaOf(COL2, ROW3), ...EL_X, ...Y3, pts: logElafinVsBmpr2, fitX: fitElBmprX, fitMid: fitElBmprMid, fitHi: fitElBmprHi, fitLo: fitElBmprLo, yPad: 6, xPad: 7, rho: '\u03c1 = \u22120.028', pRest: ' = .783', statsPos: 'bottom' },
];

const boxSpecs: any[] = [
  { rect: rectOf(COL3, ROW1), area: areaOf(COL3, ROW1), ...Y1, yTitle: 'Neutrophil %', yTitlePad: 5.7, yPad: 4, xPad: 4, groupLabels: neGroups.map((g, i) => [g, neutPctN[i]]), normalStats: neutPctNormalStats, incStats: neutPctIncStats, normalPts: neutPctNormalPts, incPts: neutPctIncPts, pAt: [1.25, 68.1], pRest: ' = .004' },
  { rect: rectOf(COL3, ROW2), area: areaOf(COL3, ROW2), ...Y2, yTitle: 'Absolute Neutrophils \u00d7 10\u00b3', yTitlePad: 5.7, yPad: 4, xPad: 4, groupLabels: neGroups.map((g, i) => [g, absNeutN[i]]), normalStats: absNeutNormalStats, incStats: absNeutIncStats, normalPts: absNeutNormalPts, incPts: absNeutIncPts, pAt: [1.214, 5.93], pRest: ' = .028' },
  { rect: rectOf(COL3, ROW3), area: areaOf(COL3, ROW3), ...Y3, yTitle: 'BMPR2/GAPDH (log \u0394\u0394 CT)', yTitlePad: 5.7, yPad: 4, xPad: 3, groupLabels: neGroups.map((g, i) => [g, bmprN[i]]), normalStats: bmprNormalStats, incStats: bmprIncStats, normalPts: bmprNormalPts, incPts: bmprIncPts, pAt: [1.2, -2.44], pRest: ' < .0001' },
];

export default function App() {
  const bar = barConfig();
  const swatchX = [109, 302, 498];
  return (
    <div style={{ position: 'absolute', left: 0, top: 0, width: 750, height: 1002, background: '#fff', overflow: 'hidden' }}>
      <T x={2} y={13} size={21} anchor="left">A</T>
      <T x={510} y={12} size={21} anchor="left">B</T>
      <T x={2} y={703} size={21} anchor="left">C</T>
      <T x={152} y={26} size={14} bold>Log NE</T>
      <T x={384} y={26} size={14} bold>Log Elafin</T>
      <T x={658} y={26} size={14} bold>NE</T>
      <T x={395} y={714} size={12} bold>Cytokine levels in the increased NE group (N = 159) relative to normal NE group (N = 69)</T>
      {scatterSpecs.map((s, i) => (
        <ChartCanvas key={'s' + i} rect={s.rect} make={() => scatterConfig(s)} />
      ))}
      {boxSpecs.map((s, i) => (
        <ChartCanvas key={'b' + i} rect={s.rect} make={() => boxConfig(s)} />
      ))}
      <ChartCanvas rect={bar.rect} make={() => bar.config} />
      <div style={{ position: 'absolute', left: 98, top: 973, width: 595, height: 29, border: '1px solid #555', boxSizing: 'border-box' }} />
      {legendLabels.map((lab, i) => (
        <React.Fragment key={'l' + i}>
          <div style={{ position: 'absolute', left: swatchX[i], top: 982, width: 10, height: 10, boxSizing: 'border-box', border: '1px solid #333', background: GROUP_FILL[['neg', 'pos', 'sig'][i]] }} />
          <T x={swatchX[i] + 14} y={987.5} size={13} anchor="left">{lab}</T>
        </React.Fragment>
      ))}
    </div>
  );
}
